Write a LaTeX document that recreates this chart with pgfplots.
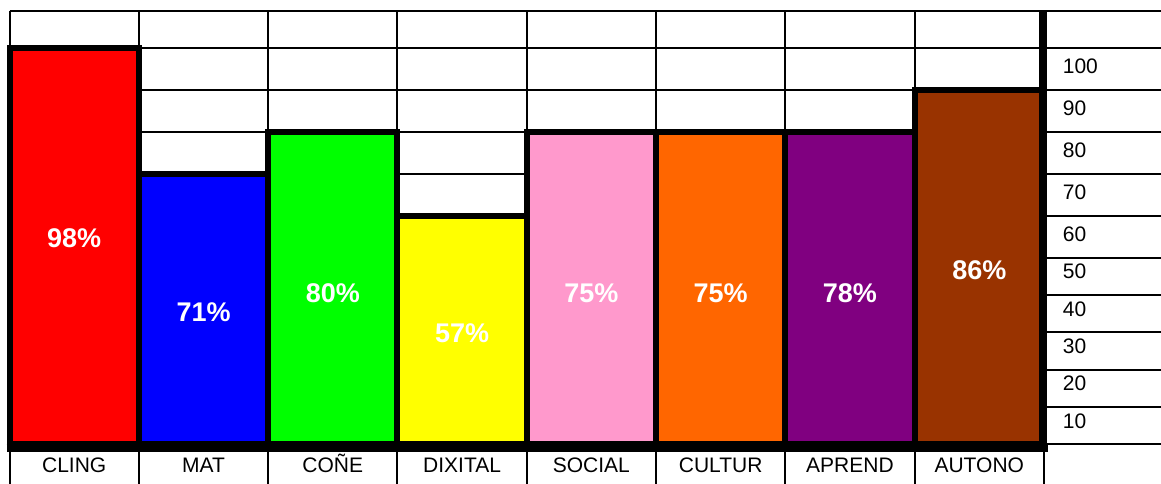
\documentclass[border=0pt]{standalone}
\usepackage{pgfplots}
\pgfplotsset{compat=1.18}
\usepackage{pgfplotstable}
\usepackage{fontspec}
\setmainfont{Liberation Sans}

\definecolor{cRed}{HTML}{FF0000}
\definecolor{cBlue}{HTML}{0000FF}
\definecolor{cGreen}{HTML}{00FF00}
\definecolor{cYellow}{HTML}{FFFF00}
\definecolor{cPink}{HTML}{FF99CC}
\definecolor{cOrange}{HTML}{FF6600}
\definecolor{cPurple}{HTML}{800080}
\definecolor{cBrown}{HTML}{993300}

% x: category, h: bar height on the row scale, ly: label height, pct: printed value
\pgfplotstableread{
x h ly pct
0 100 54.6 98
1 70 35.5 71
2 80 40.6 80
3 60 29.8 57
4 80 40.6 75
5 80 40.6 75
6 80 40.6 78
7 90 46.7 86
}\bardata

\begin{document}
\begin{tikzpicture}
\useasboundingbox (0,0) rectangle (1161pt,483pt);
\begin{axis}[
  at={(9.6pt,38.7pt)}, anchor=south west,
  scale only axis, width=1151.4pt, height=433.3pt,
  xmin=-0.5, xmax=8.406, ymin=0, ymax=110,
  enlargelimits=false,
  y coord trafo/.code={\pgfmathparse{#1<=50 ? 3.73*#1 : (#1<=100 ? 186.6+4.2*(#1-50) : 396.6+3.67*(#1-100))}},
  axis line style={draw=none},
  major tick length=0pt, minor tick length=0pt,
  xtick={0,1,2,3,4,5,6,7},
  xticklabels={CLING,MAT,COÑE,DIXITAL,SOCIAL,CULTUR,APREND,AUTONO},
  minor xtick={-0.5,0.5,1.5,2.5,3.5,4.5,5.5,6.5,7.5},
  xminorgrids,
  ytick={0,10,20,30,40,50,60,70,80,90,100,110},
  yticklabels={10,20,30,40,50,60,70,80,90,100,{},{}},
  ymajorgrids,
  major grid style={black, line width=2pt},
  minor grid style={black, line width=2pt},
  yticklabel pos=right,
  yticklabel style={anchor=base west, xshift=-101.7pt, yshift=16.2pt, font=\fontsize{21}{25}\selectfont},
  xticklabel style={anchor=base, yshift=-28pt, font=\fontsize{21}{25}\selectfont},
  clip=false,
]
\addplot[ybar, bar width=1, bar shift=0pt, fill=cRed, draw=black, line width=6pt] coordinates {(0,100)};
\addplot[ybar, bar width=1, bar shift=0pt, fill=cBlue, draw=black, line width=6pt] coordinates {(1,70)};
\addplot[ybar, bar width=1, bar shift=0pt, fill=cGreen, draw=black, line width=6pt] coordinates {(2,80)};
\addplot[ybar, bar width=1, bar shift=0pt, fill=cYellow, draw=black, line width=6pt] coordinates {(3,60)};
\addplot[ybar, bar width=1, bar shift=0pt, fill=cPink, draw=black, line width=6pt] coordinates {(4,80)};
\addplot[ybar, bar width=1, bar shift=0pt, fill=cOrange, draw=black, line width=6pt] coordinates {(5,80)};
\addplot[ybar, bar width=1, bar shift=0pt, fill=cPurple, draw=black, line width=6pt] coordinates {(6,80)};
\addplot[ybar, bar width=1, bar shift=0pt, fill=cBrown, draw=black, line width=6pt] coordinates {(7,90)};

\addplot[draw=none, mark=none,
  point meta=explicit symbolic,
  nodes near coords={\pgfplotspointmeta\%},
  every node near coord/.append style={anchor=center, text=white, inner sep=0pt,
    font=\fontsize{27}{30}\selectfont\bfseries}]
  table[x=x, y=ly, meta=pct] {\bardata};

\draw[line width=7.4pt] ([xshift=-3pt, yshift=-3.7pt]axis cs:-0.5,0) -- ([xshift=4pt, yshift=-3.7pt]axis cs:7.5,0);
\draw[line width=8pt] ([xshift=-1.3pt]axis cs:7.5,110) -- ([xshift=-1.3pt, yshift=-7.4pt]axis cs:7.5,0);
\draw[line width=2pt]
  (axis cs:-0.5,0) -- ([yshift=-40pt]axis cs:-0.5,0)
  (axis cs:0.5,0) -- ([yshift=-40pt]axis cs:0.5,0)
  (axis cs:1.5,0) -- ([yshift=-40pt]axis cs:1.5,0)
  (axis cs:2.5,0) -- ([yshift=-40pt]axis cs:2.5,0)
  (axis cs:3.5,0) -- ([yshift=-40pt]axis cs:3.5,0)
  (axis cs:4.5,0) -- ([yshift=-40pt]axis cs:4.5,0)
  (axis cs:5.5,0) -- ([yshift=-40pt]axis cs:5.5,0)
  (axis cs:6.5,0) -- ([yshift=-40pt]axis cs:6.5,0)
  (axis cs:7.5,0) -- ([yshift=-40pt]axis cs:7.5,0);
\end{axis}
\end{tikzpicture}
\end{document}
